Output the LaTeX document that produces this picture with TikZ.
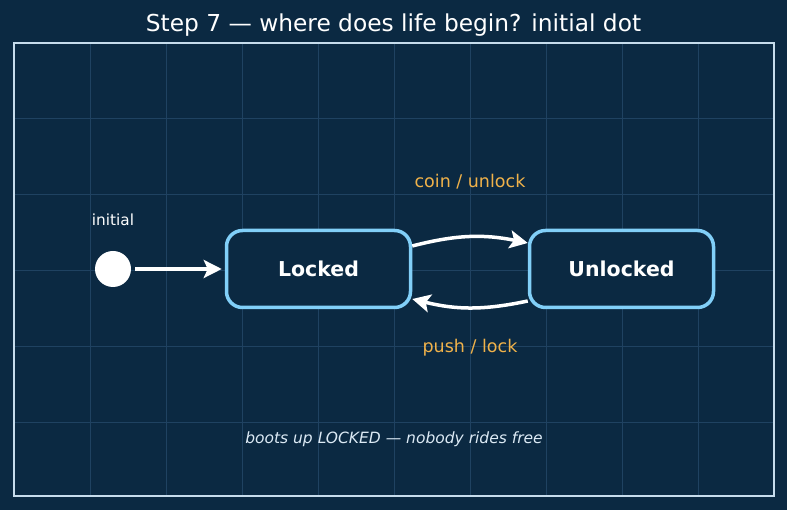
\documentclass[tikz,border=0pt]{standalone}
\usepackage{fontspec}
\setmainfont{DejaVu Sans}
\usetikzlibrary{arrows.meta}

\definecolor{bgblue}{HTML}{0B2942}
\definecolor{gridblue}{HTML}{1F4261}
\definecolor{framegray}{HTML}{C6DCEC}
\definecolor{stateblue}{HTML}{81CFF8}
\definecolor{evtgold}{HTML}{F0B24A}
\definecolor{notegray}{HTML}{DCEAF5}

\begin{document}
\begin{tikzpicture}[x=1pt,y=1pt,
  state/.style={draw=stateblue, line width=3.5pt, rounded corners=16pt, fill=bgblue,
    minimum width=184pt, minimum height=77pt, text=white,
    font=\fontsize{20.5}{24}\selectfont\bfseries},
  trans/.style={draw=white, line width=3.5pt, -{Stealth[length=18pt,width=18pt,inset=4pt]}},
  evt/.style={text=evtgold, font=\fontsize{17.5}{21}\selectfont}]

% Background and page size
\fill [bgblue] (0,0) rectangle (787,510);
\useasboundingbox (0,0) rectangle (787,510);

% Grid
\foreach \x in {90,166,...,698}
\draw [gridblue, line width=1pt] (\x,14) -- (\x,467);

\foreach \y in {87,163,...,391}
\draw [gridblue, line width=1pt] (14,\y) -- (774,\y);

% Frame
\draw [framegray, line width=2pt] (14,14) rectangle (774,467);

% Title
\node (title) at (393.5,485) [text=white, font=\fontsize{23.3}{27}\selectfont]
  {Step 7 — where does life begin? initial dot};

% Initial dot
\node (init0) at (113,241) [circle, fill=white, minimum size=36pt, inner sep=0pt] {};
\node (initlbl) at (113,290) [text=white, font=\fontsize{15.3}{18}\selectfont] {initial};

% States
\node (locked) at (318.5,241) [state] {Locked};
\node (unlocked) at (621.5,241) [state] {Unlocked};

% Transitions
\draw [trans, shorten <=4pt, shorten >=3pt] (init0) -- (locked);
\draw [trans] ([yshift=23pt]locked.east) to [bend left=13] ([yshift=26pt]unlocked.west);
\draw [trans] ([yshift=-32pt]unlocked.west) to [bend left=13] ([yshift=-30pt]locked.east);

% Events
\node (coin) at (470,328) [evt] {coin / unlock};
\node (push) at (470,162) [evt] {push / lock};

% Note
\node (note) at (394,71) [text=notegray, font=\fontsize{15.5}{18}\selectfont\itshape]
  {boots up LOCKED — nobody rides free};

\end{tikzpicture}
\end{document}
